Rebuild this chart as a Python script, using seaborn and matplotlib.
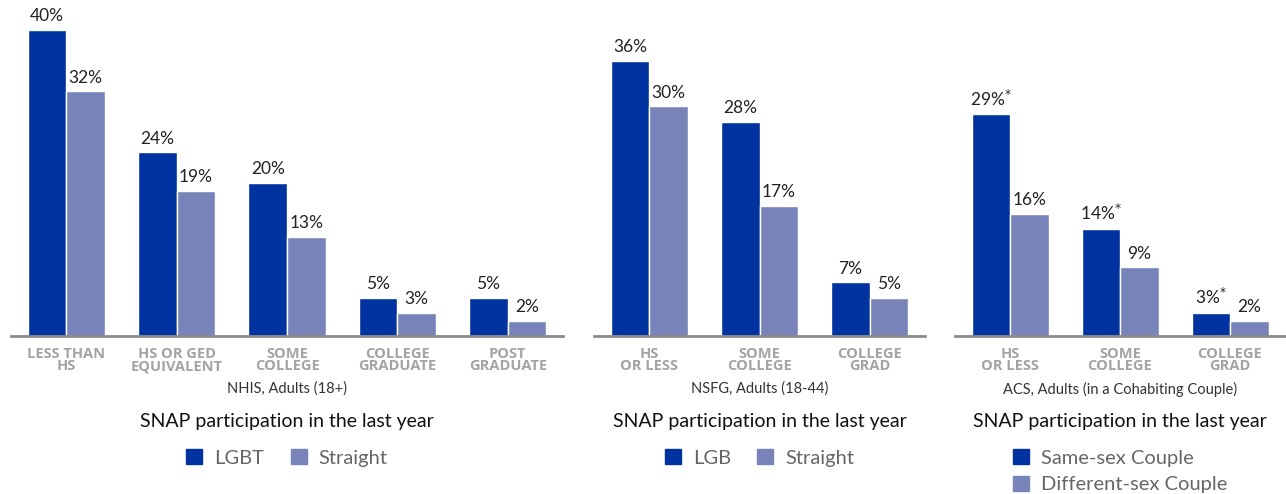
import pandas as pd
import matplotlib.pyplot as plt
import seaborn as sns
from matplotlib.patches import Patch

sns.set_style("white")
plt.rcParams['font.family'] = ['Lato', 'DejaVu Sans']

dark = "#0033a0"
light = "#7884b9"
axis_gray = "#8a8a8a"
label_gray = "#a3a3a3"

# NHIS panel
nhis_cats = ["LESS THAN\nHS", "HS OR GED\nEQUIVALENT", "SOME\nCOLLEGE", "COLLEGE\nGRADUATE", "POST\nGRADUATE"]
nhis_lgbt = [40, 24, 20, 5, 5]
nhis_straight = [32, 19, 13, 3, 2]

# NSFG panel
nsfg_cats = ["HS\nOR LESS", "SOME\nCOLLEGE", "COLLEGE\nGRAD"]
nsfg_lgb = [36, 28, 7]
nsfg_straight = [30, 17, 5]

# ACS panel
acs_cats = ["HS\nOR LESS", "SOME\nCOLLEGE", "COLLEGE\nGRAD"]
acs_same = [29, 14, 3]
acs_diff = [16, 9, 2]
acs_sig = [True, True, True]

fig = plt.figure(figsize=(12.86, 4.94), dpi=100)
W, H = 1286, 494
base_y = 336
top_y = 336 - 42 * 7.65


def make_ax(x0, x1):
    return fig.add_axes([x0 / W, 1 - base_y / H, (x1 - x0) / W, (base_y - top_y) / H])


def panel(ax, cats, a, b, names, subtitle, sig=None, legend_cols=2):
    df = pd.DataFrame({
        "cat": cats * 2,
        "val": a + b,
        "group": [names[0]] * len(cats) + [names[1]] * len(cats),
    })
    sns.barplot(data=df, x="cat", y="val", hue="group", palette=[dark, light],
                width=0.7, ax=ax, legend=False, saturation=1)
    for i, cont in enumerate(ax.containers):
        vals = a if i == 0 else b
        labels = []
        for j, v in enumerate(vals):
            s = f"{v}%"
            if i == 0 and sig is not None and sig[j]:
                s += "$^{*}$"
            labels.append(s)
        ax.bar_label(cont, labels=labels, padding=4, fontsize=12.5, color="#222222")
    n = len(cats)
    ax.set_xlim(-0.5, n - 0.5)
    ax.set_ylim(0, 42)
    ax.set_yticks([])
    ax.set_xlabel("")
    ax.set_ylabel("")
    for side in ["top", "right", "left"]:
        ax.spines[side].set_visible(False)
    ax.spines["bottom"].set_color(axis_gray)
    ax.spines["bottom"].set_linewidth(2)
    ax.tick_params(axis="x", which="major", length=0, pad=8)
    ax.set_xticks([x - 0.5 for x in range(n + 1)], minor=True)
    ax.tick_params(axis="x", which="minor", length=7, width=2, color=axis_gray, direction="out")
    ax.set_xticks(range(n))
    ax.set_xticklabels(cats, fontsize=10.5, fontweight="bold", color=label_gray,
                       linespacing=0.85, family=["Open Sans", "DejaVu Sans"])
    ax.text(0.5, -0.165, subtitle, transform=ax.transAxes, ha="center", va="center",
            fontsize=10.5, color="#333333")
    ax.text(0.5, -0.265, "SNAP participation in the last year", transform=ax.transAxes,
            ha="center", va="center", fontsize=14, color="#111111")
    handles = [Patch(color=dark, label=names[0]), Patch(color=light, label=names[1])]
    ax.legend(handles=handles, loc="upper center", bbox_to_anchor=(0.5, -0.32),
              ncol=legend_cols, frameon=False, fontsize=14.5, labelcolor="#666666",
              handlelength=0.8, handleheight=0.8, handletextpad=0.6, columnspacing=1.3,
              borderpad=0, labelspacing=0.45)


ax1 = make_ax(11, 563)
panel(ax1, nhis_cats, nhis_lgbt, nhis_straight, ["LGBT", "Straight"], "NHIS, Adults (18+)")

ax2 = make_ax(594, 925)
panel(ax2, nsfg_cats, nsfg_lgb, nsfg_straight, ["LGB", "Straight"], "NSFG, Adults (18-44)")

ax3 = make_ax(955, 1285)
panel(ax3, acs_cats, acs_same, acs_diff, ["Same-sex Couple", "Different-sex Couple"],
      "ACS, Adults (in a Cohabiting Couple)", sig=acs_sig, legend_cols=1)

fig.savefig("out.png", dpi=100)
